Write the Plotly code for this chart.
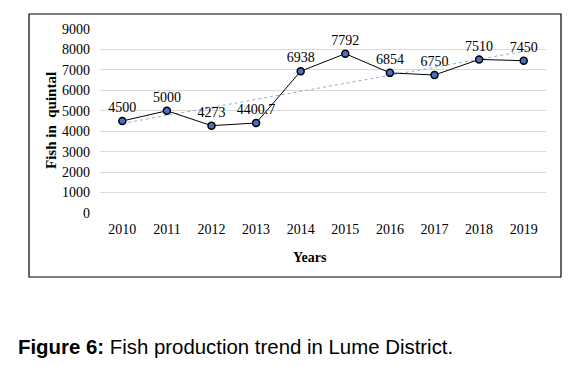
import plotly.graph_objects as go
import numpy as np

years = ["2010", "2011", "2012", "2013", "2014", "2015", "2016", "2017", "2018", "2019"]
production = [4500, 5000, 4273, 4400.7, 6938, 7792, 6854, 6750, 7510, 7450]
labels = ["4500", "5000", "4273", "4400.7", "6938", "7792", "6854", "6750", "7510", "7450"]
y_ticks = [0, 1000, 2000, 3000, 4000, 5000, 6000, 7000, 8000, 9000]

# linear trendline (Excel-style)
xi = np.arange(len(production))
slope, intercept = np.polyfit(xi, production, 1)
trend = list(intercept + slope * xi)

serif = "Liberation Serif"

fig = go.Figure()
fig.add_trace(go.Scatter(
    x=years, y=trend, mode="lines",
    line=dict(color="#8FAADC", width=1, dash="dot"),
    hoverinfo="skip", showlegend=False))
fig.add_trace(go.Scatter(
    x=years, y=production, mode="lines+markers+text",
    text=labels, textposition="top center",
    textfont=dict(family=serif, size=14, color="black"),
    line=dict(color="black", width=1),
    marker=dict(size=7, color="#4472C4", line=dict(color="black", width=1.5)),
    showlegend=False))

# page body has an 8px margin; target pixel coords are shifted by OFF
OFF = 8
W, H = 578, 366
L, T = 100 - OFF, 29 - OFF
PR, PB = 546 - OFF, 213 - OFF
R, B = W - PR, H - PB
pw, ph = PR - L, PB - T

def px(x):
    return (x - OFF - L) / pw

def py(y):
    return (PB - (y - OFF)) / ph

fig.update_layout(
    width=W, height=H,
    margin=dict(l=L, r=R, t=T, b=B),
    paper_bgcolor="white", plot_bgcolor="white",
    font=dict(family=serif, size=14, color="black"),
    xaxis=dict(type="category", range=[-0.5, 9.5], showgrid=False, showline=False,
               zeroline=False, ticks="", tickfont=dict(family=serif, size=14),
               ticklabelstandoff=6),
    yaxis=dict(range=[0, 9000], tickvals=y_ticks, showgrid=True, gridcolor="#D9D9D9",
               gridwidth=1, zeroline=False, showline=False, ticks="",
               tickfont=dict(family=serif, size=14), ticklabelstandoff=9),
    shapes=[dict(type="rect", xref="paper", yref="paper",
                 x0=px(29), x1=px(561), y0=py(277), y1=py(14),
                 line=dict(color="black", width=1.2), fillcolor="rgba(0,0,0,0)")],
    annotations=[
        dict(text="<b>Fish in  quintal</b>", xref="paper", yref="paper",
             x=px(51), y=py(121), showarrow=False, textangle=-90,
             font=dict(family=serif, size=15, color="black"),
             xanchor="center", yanchor="middle"),
        dict(text="<b>Years</b>", xref="paper", yref="paper",
             x=px(310), y=py(257), showarrow=False,
             font=dict(family=serif, size=14, color="black"),
             xanchor="center", yanchor="middle"),
        dict(text="<b>Figure 6:</b> Fish production trend in Lume District.",
             xref="paper", yref="paper", x=px(16), y=py(347), showarrow=False,
             font=dict(family="Liberation Sans", size=20.4, color="black"),
             xanchor="left", yanchor="middle"),
    ],
)

fig.write_html("out.html")
